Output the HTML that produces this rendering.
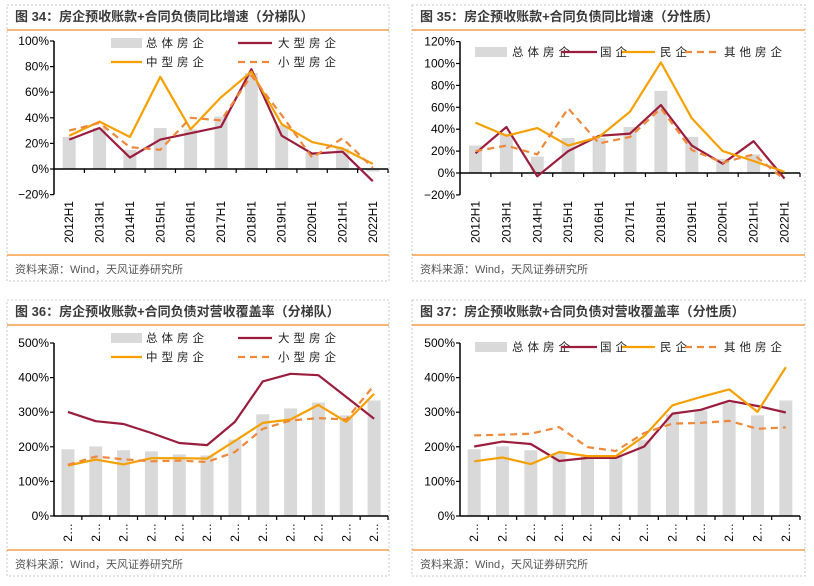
<!DOCTYPE html>
<html><head><meta charset="utf-8">
<style>
body{margin:0;background:#fff;width:814px;height:581px;overflow:hidden;font-family:"Liberation Sans","Noto Sans CJK SC",sans-serif;}
svg text{font-family:"Liberation Sans","Noto Sans CJK SC",sans-serif;}
</style></head>
<body>
<svg id="root" width="814" height="581" viewBox="0 0 814 581" xmlns="http://www.w3.org/2000/svg"></svg>
<script>
// ---- data ----
const yearCats = ["2012H1","2013H1","2014H1","2015H1","2016H1","2017H1","2018H1","2019H1","2020H1","2021H1","2022H1"];
const covCats = ["2…","2…","2…","2…","2…","2…","2…","2…","2…","2…","2…","2…"];

const g34Total = [25,32,15,32,31,41,75,34,13,16,-2];
const g34Large = [23,32,9,23,28,33,78,26,12,13.5,-9.5];
const g34Mid   = [26,37,25,72,31,56,76,35,21,16,4];
const g34Small = [30,36,17,15,40,38,73,42,9,24,1];

const g35Total = [25,36,15,32,32,42,75,33,13,17,-1];
const g35SOE   = [18,42,-3,20,34,36,62,25,8.5,29,-5];
const g35Priv  = [46,34,41,25,33,56,101,50,20,11,1];
const g35Other = [20,25,17,59,27,33,59,21,9.5,17,-6];

const c36Total = [193,201,190,187,178,175,221,294,311,328,291,334];
const c36Large = [301,274,266,240,211,205,272,389,411,407,344,281];
const c36Mid   = [146,163,149,167,167,166,217,269,279,321,272,353];
const c36Small = [148,172,164,158,160,156,185,252,276,283,279,378];

const c37Total = [193,201,190,183,173,173,219,294,305,328,291,334];
const c37SOE   = [201,215,208,159,168,168,201,296,307,333,318,299];
const c37Priv  = [158,169,150,185,173,173,231,320,344,366,301,430];
const c37Other = [233,235,238,257,199,188,240,267,269,275,252,256];

const ticks34 = [-20,0,20,40,60,80,100];
const ticks35 = [-20,0,20,40,60,80,100,120];
const ticksCov = [0,100,200,300,400,500];

const NS="http://www.w3.org/2000/svg";
const root=document.getElementById('root');
function mk(tag,attrs,parent){const e=document.createElementNS(NS,tag);for(const k in attrs)e.setAttribute(k,attrs[k]);(parent||root).appendChild(e);return e;}

const C_BAR="#d9d9d9",C_RED="#9b1d3d",C_ORG="#f5a000",C_DASH="#f0883a";

function frame(ox,oy,w,title,name){
  const g=mk('g',{});
  
  
  const b=mk('rect',{x:ox,y:oy,width:w,height:276,fill:'none',stroke:'#c8c8c8','stroke-dasharray':'2,2'},g);
  
  
  const t=mk('text',{x:ox+8,y:oy+16,'font-size':'13','font-weight':'bold',fill:'#3a3a3a'},g);
  t.textContent=title;
  
  
  const l1=mk('line',{x1:ox,x2:ox+w,y1:oy+25,y2:oy+25,stroke:'#f08a24','stroke-width':'1.3'},g);
  
  
  const l2=mk('line',{x1:ox,x2:ox+w,y1:oy+250,y2:oy+250,stroke:'#f08a24','stroke-width':'1.3'},g);
  
  
  const s=mk('text',{x:ox+8,y:oy+268,'font-size':'11',fill:'#555'},g);
  s.textContent='资料来源：Wind，天风证券研究所';
  
  
  return g;
}

function chart(p){
  const g=mk('g',{});
  
  
  const n=p.cats.length, band=(p.x1-p.x0)/n;
  const Y=v=>p.yZero-(v/p.step)*p.stepPx;
  const X=i=>p.x0+band*(i+0.5);
  // bars
  p.total.forEach((v,i)=>{
    const y=Y(Math.max(v,0)),h=Math.abs(Y(v)-Y(0));
    const r=mk('rect',{x:X(i)-6.5,y:y,width:13,height:h,fill:C_BAR},g);
    
    
  });
  // axes
  const ya=mk('line',{x1:p.x0,x2:p.x0,y1:Y(p.ticks[0]),y2:Y(p.ticks[p.ticks.length-1]),stroke:'#000','stroke-width':'1.5'},g);
  
  
  p.ticks.forEach(t=>{
    mk('line',{x1:p.x0-4,x2:p.x0,y1:Y(t),y2:Y(t),stroke:'#000','stroke-width':'1.2'},g);
    const tx=mk('text',{x:p.x0-5,y:Y(t)+4,'font-size':'12','text-anchor':'end',fill:'#000'},g);
    tx.textContent=(t<0?'−':'')+Math.abs(t)+'%';
    
    
  });
  const xa=mk('line',{x1:p.x0,x2:p.x1,y1:Y(0),y2:Y(0),stroke:'#000','stroke-width':'1.5'},g);
  
  
  for(let i=1;i<=n;i++){
    mk('line',{x1:p.x0+band*i,x2:p.x0+band*i,y1:Y(0),y2:Y(0)+4,stroke:'#000','stroke-width':'1.2'},g);
  }
  p.cats.forEach((c,i)=>{
    const x=X(i)+4,y=p.labelY;
    const tx=mk('text',{x:x,y:y,'font-size':'12','text-anchor':'end',fill:'#000',transform:`rotate(-90 ${x} ${y})`},g);
    tx.textContent=c;
    
    
  });
  // lines
  p.series.forEach(s=>{
    const d=s.data.map((v,i)=>(i?'L':'M')+X(i).toFixed(1)+' '+Y(v).toFixed(1)).join(' ');
    const a={d:d,fill:'none',stroke:s.color,'stroke-width':'2.2','stroke-linejoin':'round'};
    if(s.dash)a['stroke-dasharray']='7,5';
    const pth=mk('path',a,g);
    
    
  });
  // legend
  p.legend.forEach(L=>{
    const lg=mk('g',{},g);
    
    
    if(L.type==='bar')mk('rect',{x:L.x,y:L.y-5,width:L.w,height:10,fill:C_BAR},lg);
    else{const a={x1:L.x,x2:L.x+L.w,y1:L.y,y2:L.y,stroke:L.color,'stroke-width':'2.2'};if(L.dash)a['stroke-dasharray']='7,5';mk('line',a,lg);}
    const t=mk('text',{x:L.tx,y:L.y+4,'font-size':'11.5','letter-spacing':'4',fill:'#222','font-family':'"Noto Serif CJK SC","Noto Sans CJK SC",serif'},lg);
    t.textContent=L.label;
  });
}

frame(7,5,382,'图 34：房企预收账款+合同负债同比增速（分梯队）','panel-34');
frame(412,5,393,'图 35：房企预收账款+合同负债同比增速（分性质）','panel-35');
frame(7,300,382,'图 36：房企预收账款+合同负债对营收覆盖率（分梯队）','panel-36');
frame(412,300,393,'图 37：房企预收账款+合同负债对营收覆盖率（分性质）','panel-37');

chart({name:'chart-34',cats:yearCats,x0:54,x1:388,yZero:169,step:20,stepPx:25.6,ticks:ticks34,labelY:201,total:g34Total,
 series:[{name:'line-large',data:g34Large,color:C_RED},{name:'line-mid',data:g34Mid,color:C_ORG},{name:'line-small',data:g34Small,color:C_DASH,dash:true}],
 legend:[{type:'bar',x:111,y:43,w:31,tx:146,label:'总体房企'},{type:'line',x:238,y:43,w:34,color:C_RED,tx:278,label:'大型房企'},
  {type:'line',x:111,y:62,w:31,color:C_ORG,tx:146,label:'中型房企'},{type:'line',x:238,y:62,w:34,color:C_DASH,dash:true,tx:278,label:'小型房企'}]});

chart({name:'chart-35',cats:yearCats,x0:460,x1:800,yZero:173,step:20,stepPx:21.9,ticks:ticks35,labelY:201,total:g35Total,
 series:[{name:'line-soe',data:g35SOE,color:C_RED},{name:'line-private',data:g35Priv,color:C_ORG},{name:'line-other',data:g35Other,color:C_DASH,dash:true}],
 legend:[{type:'bar',x:475,y:52,w:32,tx:512,label:'总体房企'},{type:'line',x:561,y:52,w:36,color:C_RED,tx:600,label:'国企'},
  {type:'line',x:622,y:52,w:33,color:C_ORG,tx:660,label:'民企'},{type:'line',x:685,y:52,w:34,color:C_DASH,dash:true,tx:724,label:'其他房企'}]});

chart({name:'chart-36',cats:covCats,x0:54,x1:388,yZero:516,step:100,stepPx:34.6,ticks:ticksCov,labelY:523,total:c36Total,
 series:[{name:'line-large',data:c36Large,color:C_RED},{name:'line-mid',data:c36Mid,color:C_ORG},{name:'line-small',data:c36Small,color:C_DASH,dash:true}],
 legend:[{type:'bar',x:111,y:338,w:31,tx:146,label:'总体房企'},{type:'line',x:238,y:338,w:34,color:C_RED,tx:278,label:'大型房企'},
  {type:'line',x:111,y:357,w:31,color:C_ORG,tx:146,label:'中型房企'},{type:'line',x:238,y:357,w:34,color:C_DASH,dash:true,tx:278,label:'小型房企'}]});

chart({name:'chart-37',cats:covCats,x0:460,x1:800,yZero:516,step:100,stepPx:34.6,ticks:ticksCov,labelY:523,total:c37Total,
 series:[{name:'line-soe',data:c37SOE,color:C_RED},{name:'line-private',data:c37Priv,color:C_ORG},{name:'line-other',data:c37Other,color:C_DASH,dash:true}],
 legend:[{type:'bar',x:475,y:347,w:32,tx:512,label:'总体房企'},{type:'line',x:561,y:347,w:36,color:C_RED,tx:600,label:'国企'},
  {type:'line',x:622,y:347,w:33,color:C_ORG,tx:660,label:'民企'},{type:'line',x:685,y:347,w:34,color:C_DASH,dash:true,tx:724,label:'其他房企'}]});
</script>
</body></html>
